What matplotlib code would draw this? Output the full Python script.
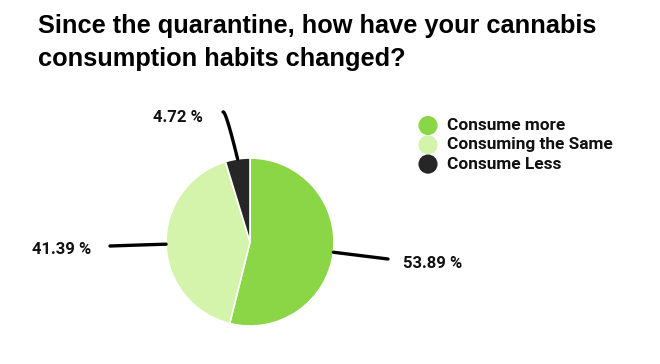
import matplotlib
matplotlib.use('Agg')
import matplotlib.pyplot as plt
import numpy as np

labels = ["Consume more", "Consuming the Same", "Consume Less"]
shares = [53.89, 41.39, 4.72]
colors = ["#8BD646", "#D4F3AB", "#262626"]
title_lines = ["Since the quarantine, how have your cannabis", "consumption habits changed?"]
# label positions (x, y in px-like data units, y up) and leader end points
label_pos = [(403, 101), (32, 114), (153, 246)]
line_end = [(388, 105), (110, 118), (223, 252)]

W, H = 660, 364
fig = plt.figure(figsize=(6.6, 3.64), dpi=100)
ax = fig.add_axes([0, 0, 1, 1])

cx, cy, r = 250, 122, 84
wedges, _ = ax.pie(shares, colors=colors, startangle=90, counterclock=False,
                   center=(cx, cy), radius=r, frame=True,
                   wedgeprops=dict(edgecolor='white', linewidth=1.2))
ax.set_xlim(0, W)
ax.set_ylim(0, H)
ax.set_aspect('equal')
ax.axis('off')

for i, (w, share, (lx, ly), (ex, ey)) in enumerate(zip(wedges, shares, label_pos, line_end)):
    mid = np.deg2rad((w.theta1 + w.theta2) / 2)
    sx, sy = cx + r * np.cos(mid), cy + r * np.sin(mid)
    if i == 2:
        # goes up nearly straight, then hooks left at the top
        kx, ky = sx - 12, ey + 2
    else:
        kx, ky = cx + (r + 12) * np.cos(mid), cy + (r + 12) * np.sin(mid)
    t = np.linspace(0, 1, 40)
    bx = (1 - t) ** 2 * sx + 2 * (1 - t) * t * kx + t ** 2 * ex
    by = (1 - t) ** 2 * sy + 2 * (1 - t) * t * ky + t ** 2 * ey
    ax.plot(bx, by, color='black', lw=2.4, solid_capstyle='round')
    ax.text(lx, ly, f"{share:.2f} %", fontsize=12, fontweight='bold',
            family='Roboto', va='center', ha='left', color='#111111')

# legend
for i, (lab, c) in enumerate(zip(labels, colors)):
    y = H - 125.5 - i * 19.3
    ax.scatter([428], [y], s=190, color=c, edgecolors='none')
    ax.text(447, y, lab, fontsize=12.4, fontweight='bold', family='Roboto',
            va='center', ha='left', color='#111111')

# title, two lines at baselines ~33 and ~66 px from top
for i, line in enumerate(title_lines):
    ax.text(38, H - 33 - i * 33, line, fontsize=18.3, fontweight='bold',
            family='Liberation Sans', va='baseline', ha='left', color='black')

fig.savefig('out.png', dpi=100)
